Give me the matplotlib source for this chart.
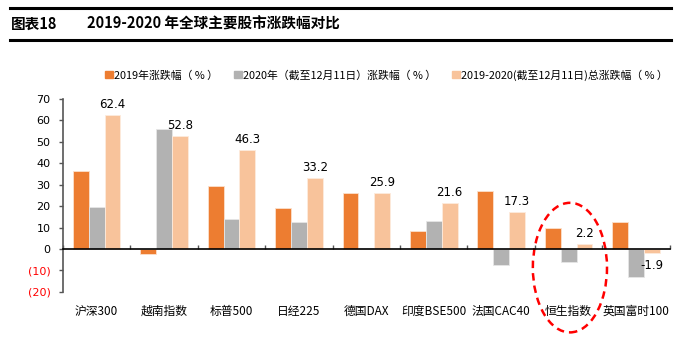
import matplotlib
matplotlib.use("Agg")
import matplotlib.pyplot as plt
import matplotlib.transforms as mtransforms
from matplotlib.patches import Ellipse, Patch
import numpy as np

plt.rcParams["font.family"] = ["Noto Sans CJK SC", "DejaVu Sans"]

categories = ["沪深300", "越南指数", "标普500", "日经225", "德国DAX",
              "印度BSE500", "法国CAC40", "恒生指数", "英国富时100"]
chg_2019 = [36.6, -2.2, 29.5, 19.3, 26.2, 8.4, 27.0, 9.9, 12.7]
chg_2020 = [19.7, 55.9, 13.8, 12.7, 0.6, 13.2, -7.3, -6.2, -12.9]
chg_total = [62.4, 52.8, 46.3, 33.2, 25.9, 21.6, 17.3, 2.2, -1.9]
series_names = ["2019年涨跌幅（ % ）", "2020年（截至12月11日）涨跌幅（ % ）",
                "2019-2020(截至12月11日)总涨跌幅（ % ）"]
yticks = [70, 60, 50, 40, 30, 20, 10, 0, -10, -20]
ytick_labels = ["70", "60", "50", "40", "30", "20", "10", "0", "(10)", "(20)"]

ORANGE = "#ED7D31"
GRAY = "#B2B2B2"
PEACH = "#F8C39B"

fig = plt.figure(figsize=(6.95, 3.55), dpi=100)
fig.patch.set_facecolor("white")

# title block with rules
fig.add_artist(plt.Line2D([0.014, 0.965], [0.978, 0.978], color="black", lw=2.2))
fig.add_artist(plt.Line2D([0.014, 0.965], [0.888, 0.888], color="black", lw=2.2))
fig.text(0.016, 0.933, "图表18", fontsize=10.5, fontweight="bold", va="center")
fig.text(0.125, 0.933, "2019-2020 年全球主要股市涨跌幅对比", fontsize=10.5,
         fontweight="bold", va="center")

ax = fig.add_axes([0.0906, 0.178, 0.873, 0.543])
x = np.arange(len(categories))
w = 0.235
ax.bar(x - w, chg_2019, w, color=ORANGE, edgecolor="#FBE0CC", lw=0.6)
ax.bar(x, chg_2020, w, color=GRAY, edgecolor="#E6E6E6", lw=0.6)
ax.bar(x + w, chg_total, w, color=PEACH, edgecolor="#FDEBDD", lw=0.6)

for xi, v in zip(x, chg_total):
    if v >= 0:
        ax.annotate(f"{v:.1f}", (xi + w, v), xytext=(0, 3), textcoords="offset points",
                    ha="center", va="bottom", fontsize=8.5, family="DejaVu Sans")
    else:
        ax.annotate(f"{v:.1f}", (xi + w, v), xytext=(0, -4), textcoords="offset points",
                    ha="center", va="top", fontsize=8.5, family="DejaVu Sans")

ax.set_xlim(-0.5, len(categories) - 0.5)
ax.set_ylim(-20, 70)
ax.set_yticks(yticks)
ax.set_yticklabels(ytick_labels, fontsize=8, family="DejaVu Sans")
for lab, v in zip(ax.get_yticklabels(), yticks):
    lab.set_color("#FF0000" if v < 0 else "black")
ax.tick_params(axis="y", direction="out", length=3, width=1, color="#555555", pad=6)

ax.spines["top"].set_visible(False)
ax.spines["right"].set_visible(False)
ax.spines["left"].set_color("#555555")
ax.spines["left"].set_linewidth(1.2)
ax.spines["bottom"].set_position(("data", 0))
ax.spines["bottom"].set_linewidth(1.2)
ax.set_xticks(np.arange(len(categories) + 1) - 0.5)
ax.set_xticklabels([])
ax.tick_params(axis="x", direction="in", length=3, width=1, color="#555555")

trans = mtransforms.blended_transform_factory(ax.transData, ax.transAxes)
for xi, name in zip(x, categories):
    ax.text(xi, -0.1, name, transform=trans, ha="center", va="center", fontsize=8.5)

ax.add_patch(Ellipse((7.02, -8.7), 1.1, 60.5, fill=False, edgecolor="#FF0000",
                     lw=1.8, ls=(0, (3, 2)), clip_on=False))

handles = [Patch(color=c) for c in (ORANGE, GRAY, PEACH)]
fig.legend(handles, series_names, loc="center", bbox_to_anchor=(0.556, 0.789), ncol=3,
           frameon=False, fontsize=7.8, handlelength=0.7, handleheight=0.7,
           handletextpad=0.1, columnspacing=1.5)

fig.savefig("out.png", dpi=100, facecolor="white")
